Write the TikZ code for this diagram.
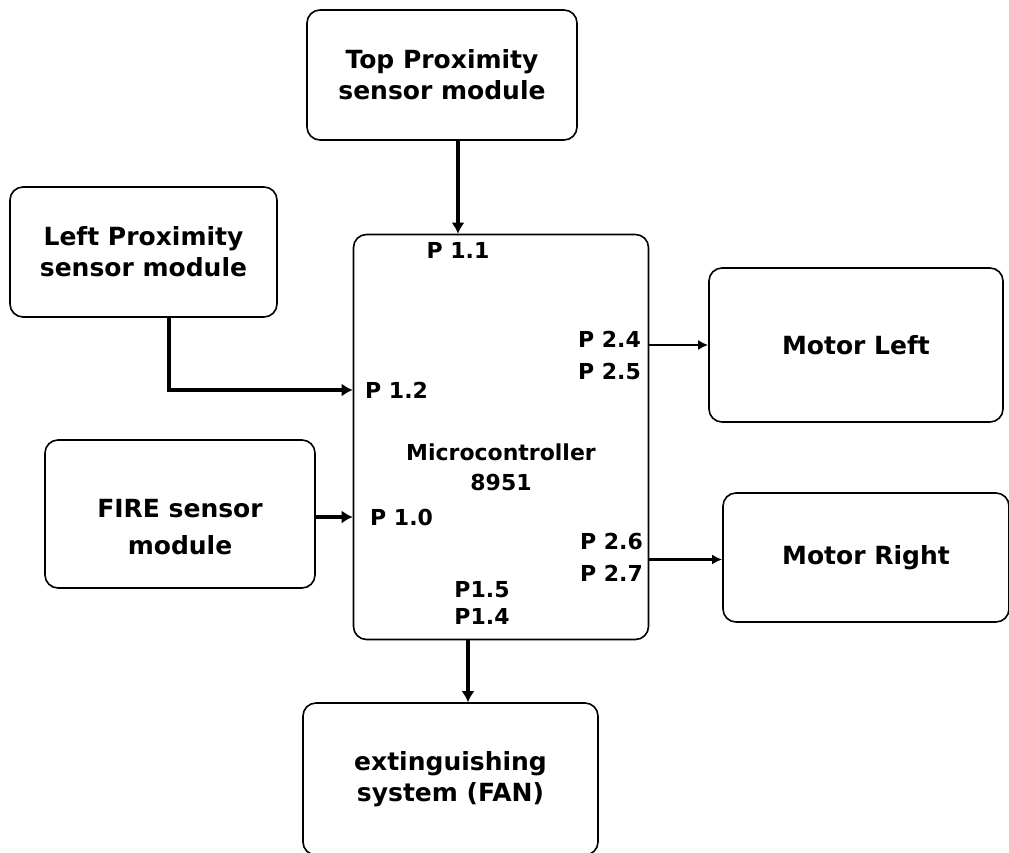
\documentclass[tikz,border=0pt]{standalone}
\usepackage{fontspec}
\setmainfont{DejaVu Sans}
\usepackage{tikz}
\usetikzlibrary{arrows.meta,positioning}

\begin{document}
\begin{tikzpicture}[
    x=1pt, y=-1pt,
    module/.style={draw=black,line width=1.6pt,rounded corners=13pt,align=center,
      inner sep=0pt,font=\fontsize{25}{31}\selectfont\bfseries},
    port/.style={inner sep=0pt,align=center,font=\fontsize{22}{32}\selectfont\bfseries},
    wire/.style={-{Latex[length=11pt,width=13pt]},line width=4pt,color=black},
    thinwire/.style={-{Latex[length=10pt,width=10pt]},line width=2.6pt,color=black}
  ]
    \useasboundingbox (0,0) rectangle (1009,852);
    \node[module,minimum width=270pt,minimum height=130pt] (top) at (442,75) {Top Proximity\\sensor module};
    \node[module,minimum width=267pt,minimum height=130pt] (left) at (143.5,252) {Left Proximity\\sensor module};
    \node[module,minimum width=270pt,minimum height=148pt,
      label={[yshift=-13pt,align=center,font=\fontsize{25}{37}\selectfont\bfseries]center:FIRE sensor\\module}] (fire) at (180,514) {};
    \node[module,minimum width=295pt,minimum height=405pt,
      label={[yshift=-30pt,align=center,font=\fontsize{22}{30}\selectfont\bfseries]center:Microcontroller\\8951}] (mcu) at (501,437) {};
    \node[module,minimum width=294pt,minimum height=154pt] (motL) at (856,345) {Motor Left};
    \node[module,minimum width=286pt,minimum height=129pt] (motR) at (866,557.5) {Motor Right};
    \node[module,minimum width=295pt,minimum height=152pt] (fan) at (450.5,779) {extinguishing\\system (FAN)};
    % port labels
    \node[port] (p11) at (458,250) {P 1.1};
    \node[port,anchor=west] (p12) at (365,390) {P 1.2};
    \node[port,anchor=west] (p10) at (370,517) {P 1.0};
    \node[port,anchor=east,align=right] (p2425) at (641,355) {P 2.4\\P 2.5};
    \node[port,anchor=east,align=right] (p2627) at (643,557) {P 2.6\\P 2.7};
    \node[port,font=\fontsize{22}{27}\selectfont\bfseries] (p1514) at (482,603) {P1.5\\P1.4};
    % links
    \draw[wire] (p11 |- top.south) -- (p11 |- mcu.north);
    \draw[wire] ([xshift=25pt]left.south) |- (mcu.west |- p12);
    \draw[wire] (fire.east |- p10) -- (mcu.west |- p10);
    \draw[thinwire] (mcu.east |- motL.west) -- (motL.west);
    \draw[thinwire] ([yshift=-2pt]mcu.east |- motR.west) -- ([yshift=-2pt]motR.west);
    \draw[wire] ([xshift=-33pt]mcu.south) -- ([xshift=-33pt]mcu.south |- fan.north);
  \end{tikzpicture}
\end{document}
